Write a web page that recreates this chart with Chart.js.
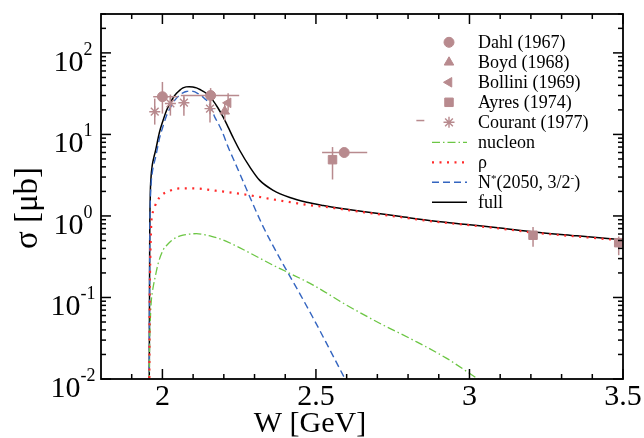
<!DOCTYPE html>
<html>
<head>
<meta charset="utf-8">
<script src="https://cdn.jsdelivr.net/npm/chart.js"></script>
<style>
  html, body { margin: 0; padding: 0; background: #fff; }
  #wrap { width: 644px; height: 438px; }
</style>
</head>
<body>
<div id="wrap"><canvas id="sigma" width="644" height="438"></canvas></div>
<script>
// gamma p -> phi p total cross section, model curves and data

const SERIF = "'Liberation Serif', 'Times New Roman', serif";
const EXP = "#b88a8e";

// full model
const wFull = [1.9565, 1.9585, 1.9605, 1.963, 1.967, 1.972, 1.978, 1.99, 2.002, 2.013, 2.024, 2.035, 2.046, 2.057, 2.067, 2.077, 2.087, 2.099, 2.111, 2.124, 2.138, 2.151, 2.165, 2.18, 2.198, 2.214, 2.23, 2.252, 2.285, 2.317, 2.361, 2.415, 2.47, 2.524, 2.578, 2.665, 2.77, 2.883, 3.0, 3.1, 3.209, 3.35, 3.5];
const sFull = [0.001, 0.4, 1.8, 3.0, 4.2, 5.2, 6.4, 10.5, 14.8, 19.5, 23.9, 28.2, 31.9, 35.0, 37.2, 38.3, 38.5, 38.1, 37.2, 35.3, 32.9, 29.8, 26.0, 21.4, 16.3, 12.3, 9.2, 6.35, 3.97, 2.73, 2.06, 1.68, 1.47, 1.34, 1.24, 1.12, 0.99, 0.867, 0.78, 0.711, 0.635, 0.57, 0.51];

// N*(2050) contribution
const wNst = [1.9565, 1.9585, 1.9605, 1.963, 1.967, 1.972, 1.978, 1.99, 2.002, 2.013, 2.024, 2.035, 2.046, 2.057, 2.067, 2.078, 2.089, 2.1, 2.113, 2.127, 2.138, 2.149, 2.16, 2.171, 2.182, 2.193, 2.204, 2.214, 2.23, 2.252, 2.285, 2.328, 2.383, 2.45, 2.491, 2.54, 2.595, 2.62];
const sNst = [0.001, 0.3, 1.4, 2.4, 3.4, 4.3, 5.3, 8.8, 12.6, 16.8, 20.8, 24.6, 27.9, 30.6, 32.4, 33.6, 34.0, 33.7, 32.2, 29.9, 27.4, 24.8, 20.6, 16.2, 13.6, 11.2, 8.8, 7.0, 5.1, 3.3, 1.7, 0.74, 0.30, 0.107, 0.056, 0.025, 0.01, 0.0068];

// rho exchange
const wRho = [1.9565, 1.9585, 1.9605, 1.9625, 1.964, 1.968, 1.975, 1.984, 1.999, 2.022, 2.046, 2.073, 2.098, 2.122, 2.148, 2.174, 2.2, 2.225, 2.274, 2.323, 2.372, 2.424, 2.475, 2.526, 2.578, 2.665, 2.77, 2.883, 3.0, 3.1, 3.209, 3.35, 3.5];
const sRho = [0.001, 0.08, 0.3, 0.6, 0.84, 1.08, 1.3, 1.55, 1.82, 2.02, 2.16, 2.18, 2.18, 2.16, 2.1, 2.04, 1.99, 1.93, 1.82, 1.69, 1.57, 1.46, 1.36, 1.3, 1.22, 1.1, 0.975, 0.855, 0.77, 0.7, 0.625, 0.56, 0.5];

// nucleon exchange
const wNuc = [1.9565, 1.958, 1.96, 1.962, 1.964, 1.967, 1.97, 1.978, 1.986, 2.002, 2.015, 2.03, 2.048, 2.067, 2.09, 2.111, 2.135, 2.16, 2.19, 2.22, 2.285, 2.361, 2.405, 2.491, 2.6, 2.709, 2.817, 2.926, 3.008, 3.05];
const sNuc = [0.001, 0.02, 0.045, 0.07, 0.093, 0.115, 0.135, 0.19, 0.26, 0.38, 0.44, 0.5, 0.55, 0.58, 0.6, 0.607, 0.59, 0.562, 0.52, 0.466, 0.351, 0.248, 0.206, 0.142, 0.0805, 0.048, 0.03, 0.0179, 0.0112, 0.0088];

// measurements: W, sigma, sigma range, W range
const dahlW = [2.0, 2.157, 2.592];
const dahlS = [29, 30, 6.0];
const dahlLo = [18, 22, null];
const dahlHi = [44, 37, null];
const dahlWLo = [1.97, 2.06, 2.52];
const dahlWHi = [2.05, 2.25, 2.667];

const boydW = [2.203];
const boydS = [19.2];
const boydLo = [14.8];
const boydHi = [24];

const bolliniW = [2.214];
const bolliniS = [24.4];
const bolliniLo = [19.5];
const bolliniHi = [31.9];

const ayresW = [2.554, 3.207, 3.486];
const ayresS = [4.9, 0.58, 0.47];
const ayresLo = [2.8, 0.42, 0.33];
const ayresHi = [7.0, 0.73, 0.56];

const courantW = [1.975, 2.026, 2.07, 2.155];
const courantS = [19, 24, 24.5, 20.7];
const courantLo = [13.2, 17, 17, 14];
const courantHi = [27.5, 30.8, 30.4, 26];

const strayW = [2.84];
const strayS = [14.8];
const strayWLo = [2.827];
const strayWHi = [2.853];

const wTicks = ["2", "2.5", "3", "3.5"];
const decades = [-2, -1, 0, 1, 2];

function pts(ws, ss) {
  return ws.map((w, i) => ({ x: w, y: ss[i] }));
}

function expSet(label, ws, ss, style, radius, err, rot) {
  return {
    type: "scatter",
    label: label,
    data: pts(ws, ss),
    pointStyle: style,
    pointRadius: radius,
    pointRotation: rot || 0,
    pointBackgroundColor: EXP,
    pointBorderColor: EXP,
    pointBorderWidth: style === "star" ? 1.4 : 1,
    borderColor: EXP,
    backgroundColor: EXP,
    errors: err
  };
}

function curve(label, ws, ss, color, dash, width) {
  return {
    type: "line",
    label: label,
    data: pts(ws, ss),
    borderColor: color,
    borderWidth: width,
    borderDash: dash,
    pointRadius: 0,
    fill: false,
    cubicInterpolationMode: "monotone"
  };
}

const datasets = [
  expSet("Dahl (1967)", dahlW, dahlS, "circle", 5, { yLo: dahlLo, yHi: dahlHi, xLo: dahlWLo, xHi: dahlWHi }),
  expSet("Boyd (1968)", boydW, boydS, "triangle", 5.5, { yLo: boydLo, yHi: boydHi }),
  expSet("Bollini (1969)", bolliniW, bolliniS, "triangle", 5.5, { yLo: bolliniLo, yHi: bolliniHi }, -90),
  expSet("Ayres (1974)", ayresW, ayresS, "rect", 6, { yLo: ayresLo, yHi: ayresHi }),
  expSet("Courant (1977)", courantW, courantS, "star", 5.5, { yLo: courantLo, yHi: courantHi }),
  expSet("", strayW, strayS, "circle", 0, { xLo: strayWLo, xHi: strayWHi }),
  curve("ρ", wRho, sRho, "#ff2a2a", [2, 5.5], 2.2),
  curve("nucleon", wNuc, sNuc, "#6cc644", [8, 3, 1.5, 3], 1.3),
  curve("N*(2050, 3/2-)", wNst, sNst, "#3465c0", [7, 4], 1.4),
  curve("full", wFull, sFull, "#000000", [], 1.5)
];

// legend rows: dataset index and kind of sample
const legendRows = [
  { i: 0, kind: "pt" }, { i: 1, kind: "pt" }, { i: 2, kind: "pt" },
  { i: 3, kind: "pt" }, { i: 4, kind: "pt" },
  { i: 7, kind: "line" }, { i: 6, kind: "line" },
  { i: 8, kind: "line" }, { i: 9, kind: "line" }
];

function seg(ctx, x1, y1, x2, y2) {
  ctx.beginPath();
  ctx.moveTo(x1, y1);
  ctx.lineTo(x2, y2);
  ctx.stroke();
}

const decor = {
  id: "decor",
  beforeDatasetDraw(chart, args) {
    const ds = chart.data.datasets[args.index];
    if (!ds.errors) return;
    const { ctx, scales: { x, y } } = chart;
    const e = ds.errors;
    ctx.save();
    ctx.strokeStyle = EXP;
    ctx.lineWidth = 1.5;
    ds.data.forEach((p, i) => {
      const px = x.getPixelForValue(p.x);
      const py = y.getPixelForValue(p.y);
      if (e.yLo && e.yLo[i] != null) {
        seg(ctx, px, y.getPixelForValue(e.yLo[i]), px, y.getPixelForValue(e.yHi[i]));
      }
      if (e.xLo && e.xLo[i] != null) {
        seg(ctx, x.getPixelForValue(e.xLo[i]), py, x.getPixelForValue(e.xHi[i]), py);
      }
    });
    ctx.restore();
  },
  afterDraw(chart) {
    const { ctx, chartArea: { left, right, top, bottom }, scales: { x, y } } = chart;
    ctx.save();
    ctx.strokeStyle = "#000";
    ctx.fillStyle = "#000";

    // frame
    ctx.lineWidth = 1.8;
    ctx.strokeRect(left, top, right - left, bottom - top);

    // x ticks, inward on bottom and top
    ctx.lineWidth = 1.5;
    for (let k = 19; k <= 35; k++) {
      const v = k / 10;
      const px = x.getPixelForValue(v);
      const len = k % 5 === 0 ? 10 : 5;
      seg(ctx, px, bottom, px, bottom - len);
      seg(ctx, px, top, px, top + len);
    }

    // y ticks, inward on left and right
    decades.forEach(n => {
      for (let k = 1; k <= 9; k++) {
        const v = k * Math.pow(10, n);
        if (v > y.max * 1.0001) continue;
        const py = y.getPixelForValue(v);
        const len = k === 1 ? 10 : 5;
        seg(ctx, left, py, left + len, py);
        seg(ctx, right, py, right - len, py);
      }
    });

    // x tick labels
    ctx.font = "30px " + SERIF;
    ctx.textAlign = "center";
    ctx.textBaseline = "alphabetic";
    wTicks.forEach(t => {
      ctx.fillText(t, x.getPixelForValue(parseFloat(t)), bottom + 26);
    });

    // y tick labels, 10^n
    decades.forEach(n => {
      const py = y.getPixelForValue(Math.pow(10, n));
      ctx.font = "30px " + SERIF;
      const w10 = ctx.measureText("10").width;
      ctx.font = "18px " + SERIF;
      const sup = String(n);
      const wSup = ctx.measureText(sup).width;
      const x0 = 73 - (w10 + wSup) / 2;
      ctx.textAlign = "left";
      ctx.font = "30px " + SERIF;
      ctx.fillText("10", x0, py + 17.7);
      ctx.font = "18px " + SERIF;
      ctx.fillText(sup, x0 + w10, py + 2);
    });

    // axis titles
    ctx.font = "30px " + SERIF;
    ctx.textAlign = "center";
    ctx.fillText("W [GeV]", 310, 432);
    ctx.save();
    ctx.translate(28, 208);
    ctx.rotate(-Math.PI / 2);
    ctx.textBaseline = "middle";
    ctx.font = "33px " + SERIF;
    ctx.fillText("σ [μb]", 0, 0);
    ctx.restore();

    // legend
    legendRows.forEach((row, r) => {
      const ds = chart.data.datasets[row.i];
      const cy = 42.3 + r * 20;
      if (row.kind === "pt") {
        ctx.save();
        ctx.fillStyle = EXP;
        ctx.strokeStyle = EXP;
        ctx.lineWidth = ds.pointBorderWidth;
        Chart.helpers.drawPoint(ctx, {
          pointStyle: ds.pointStyle,
          radius: ds.pointRadius,
          rotation: ds.pointRotation,
          borderWidth: ds.pointBorderWidth
        }, 449, cy);
        ctx.restore();
      } else {
        ctx.save();
        ctx.strokeStyle = ds.borderColor;
        ctx.lineWidth = ds.borderWidth;
        ctx.setLineDash(ds.borderDash);
        seg(ctx, 432, cy, 467, cy);
        ctx.restore();
      }
      ctx.font = "18px " + SERIF;
      ctx.textAlign = "left";
      ctx.textBaseline = "alphabetic";
      if (row.i === 8) {
        let tx = 478;
        const parts = [["N", 0, 18], ["*", -6, 11], ["(2050, 3/2", 0, 18], ["-", -7, 11], [")", 0, 18]];
        parts.forEach(([s, dy, fs]) => {
          ctx.font = fs + "px " + SERIF;
          ctx.fillText(s, tx, cy + 5.7 + dy);
          tx += ctx.measureText(s).width;
        });
      } else {
        ctx.fillText(ds.label, 478, cy + 5.7);
      }
    });
    ctx.restore();
  }
};

new Chart(document.getElementById("sigma"), {
  type: "line",
  data: { datasets: datasets },
  options: {
    responsive: false,
    animation: false,
    devicePixelRatio: 1,
    layout: { padding: { left: 101, right: 21, top: 14, bottom: 59 } },
    plugins: {
      legend: { display: false },
      tooltip: { enabled: false }
    },
    scales: {
      x: { type: "linear", min: 1.8, max: 3.5, display: false },
      y: { type: "logarithmic", min: 0.01, max: 300, display: false }
    }
  },
  plugins: [decor]
});
</script>
</body>
</html>
